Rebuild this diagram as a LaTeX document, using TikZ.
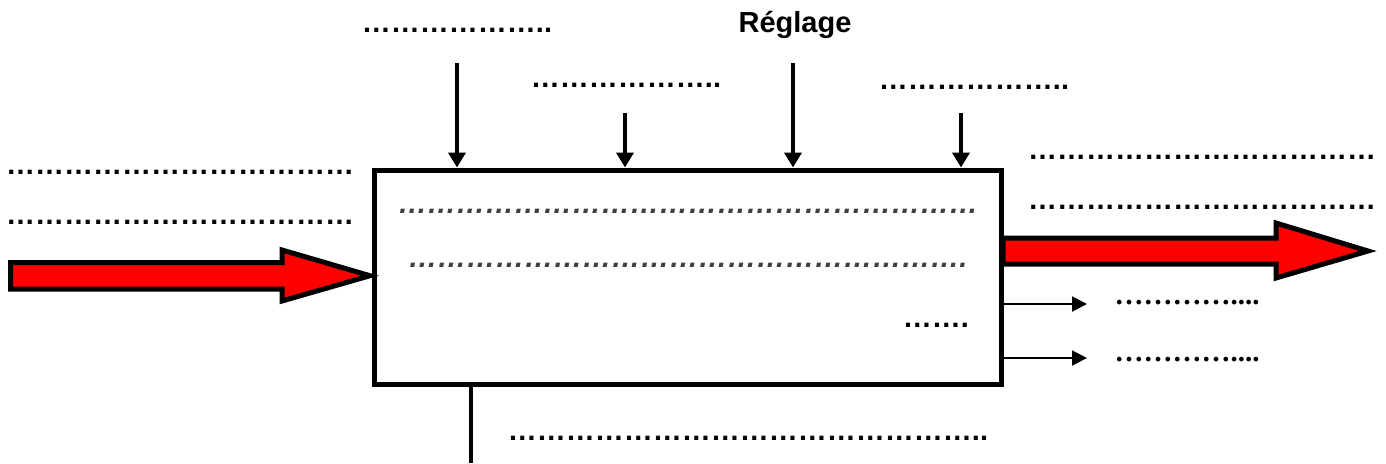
\documentclass[tikz,border=0pt]{standalone}
\usepackage{fontspec}
\setmainfont{Liberation Sans}
\newfontfamily\dotsfont{Liberation Serif}
\usetikzlibrary{arrows.meta}

\tikzset{
   fatarrow/.style={fill=red, draw=black, line width=2.5pt, miter limit=10},
   label/.style={font=\fontsize{14.5}{17}\bfseries, anchor=base, inner sep=0pt}
}
% a run of n ellipsis characters
\newcommand{\dotrun}[1]{\foreach \k in {1,...,#1}{…}}

\begin{document}
\begin{tikzpicture}[x=0.5pt,y=-0.5pt]
\useasboundingbox (0,0) rectangle (1386,463);

% the process box
\node[draw, line width=2.5pt, minimum width=313.5pt, minimum height=107pt, inner sep=0pt] (proc) at (687.5,277) {};

% big input / output arrows
\draw[fatarrow] (10.5,262.5) -- (282,262.5) -- (282,250) -- (370,275.7) -- (282,301) -- (282,289) -- (10.5,289) -- cycle;
\draw[fatarrow] (1003,238) -- (1276,238) -- (1276,223) -- (1368,251) -- (1276,278) -- (1276,264) -- (1003,264) -- cycle;

\begin{scope}[every node/.style={label}]
   \node (t1) at (457,32) {\dotrun{6}..};
   \node (reg) at (795,32) {Réglage};
   \node (t2) at (626,87) {\dotrun{6}..};
   \node (t3) at (974,89) {\dotrun{6}..};

   \node (in1) at (180,174) {\dotrun{12}};
   \node (in2) at (180,224) {\dotrun{12}};

   \node (out1) at (1202,159) {\dotrun{12}};
   \node (out2) at (1202,209) {\dotrun{12}};

   \node[font=\fontsize{14.5}{17}\bfseries\itshape, text=black!75] (p1) at (688,213) {\dotrun{20}};
   \node[font=\fontsize{14.5}{17}\bfseries\itshape, text=black!75] (p2) at (688,267) {\dotrun{19}.};
   \node (p3) at (936,327) {\dotrun{2}.};

   \node[font=\fontsize{14.5}{17}\dotsfont\bfseries] (s1) at (1187,304) {\dotrun{4}....};
   \node[font=\fontsize{14.5}{17}\dotsfont\bfseries] (s2) at (1187,361) {\dotrun{4}....};

   \node (b1) at (748,440) {\dotrun{16}..};
\end{scope}

\coordinate (a1) at (457,63);
\coordinate (a2) at (625,113);
\coordinate (a3) at (793,63);
\coordinate (a4) at (961,113);
\coordinate (o1) at (1087,304);
\coordinate (o2) at (1087,358);
\coordinate (w1) at (471,463);

\begin{scope}[every edge/.style={draw, line width=2pt, -{Triangle[length=7.5pt,width=8.5pt]}}]
   \path (a1) edge (a1 |- proc.north);
   \path (a2) edge (a2 |- proc.north);
   \path (a3) edge (a3 |- proc.north);
   \path (a4) edge (a4 |- proc.north);
\end{scope}

\begin{scope}[every edge/.style={draw, line width=1pt, -{Triangle[length=7.5pt,width=7.5pt]}}]
   \path (o1 -| proc.east) edge (o1);
   \path (o2 -| proc.east) edge (o2);
\end{scope}

\draw[line width=2pt] (w1 |- proc.south) -- (w1);
\end{tikzpicture}
\end{document}
